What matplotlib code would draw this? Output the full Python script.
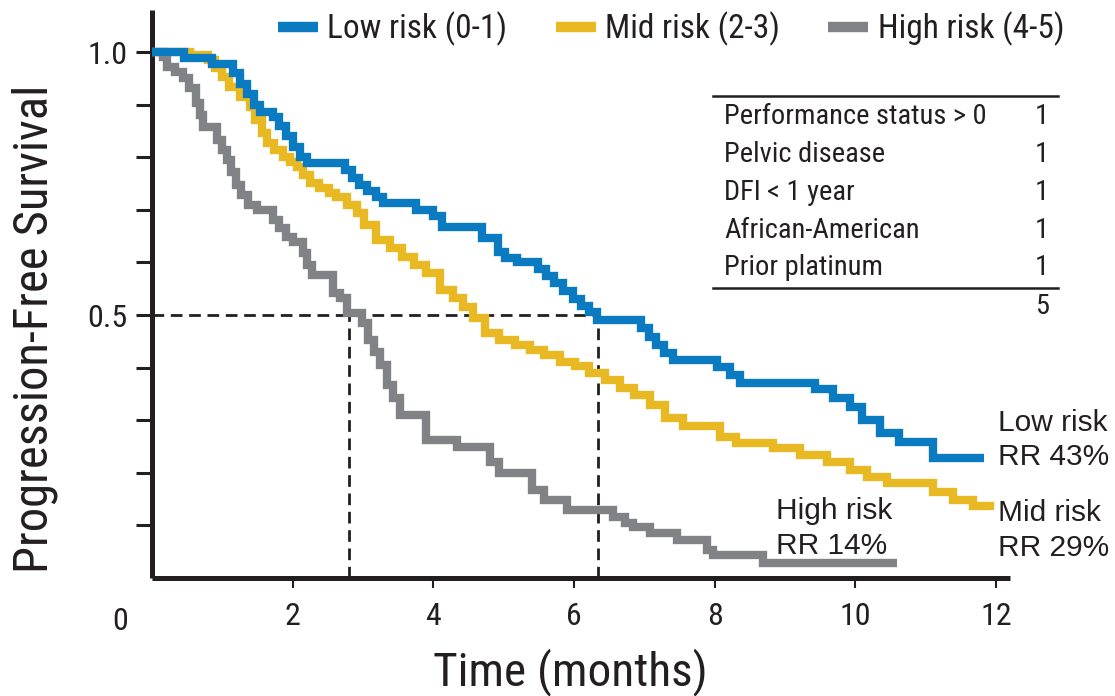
import numpy as np
import matplotlib
matplotlib.use("Agg")
import matplotlib.pyplot as plt
from matplotlib import font_manager
from matplotlib.lines import Line2D

# ---------------- data ----------------
low_t = [0, 0.46, 0.86, 1.15, 1.25, 1.35, 1.45, 1.53, 1.72, 1.80, 1.90, 2.00, 2.10, 2.20,
         2.74, 2.84, 2.95, 3.06, 3.19, 3.28, 3.76, 3.99, 4.13, 4.69, 4.92, 5.02, 5.19,
         5.49, 5.60, 5.72, 5.85, 5.98, 6.10, 6.22, 6.33, 6.96, 7.06, 7.16, 7.28, 7.41,
         8.03, 8.22, 8.36, 9.43, 9.68, 9.92, 10.10, 10.35, 10.62, 11.10, 11.83]
low_s = [1.0, 0.989, 0.977, 0.96, 0.94, 0.92, 0.90, 0.886, 0.876, 0.86, 0.84, 0.82, 0.80, 0.789,
         0.775, 0.76, 0.748, 0.736, 0.724, 0.713, 0.70, 0.688, 0.667, 0.646, 0.620, 0.608, 0.601,
         0.588, 0.575, 0.56, 0.545, 0.53, 0.517, 0.505, 0.49, 0.475, 0.458, 0.443, 0.428, 0.414,
         0.401, 0.386, 0.371, 0.36, 0.343, 0.325, 0.30, 0.276, 0.258, 0.228, 0.228]

mid_t = [0, 0.54, 0.79, 0.89, 0.99, 1.10, 1.25, 1.39, 1.47, 1.56, 1.63, 1.74, 1.86, 1.96,
         2.06, 2.14, 2.24, 2.38, 2.52, 2.62, 2.77, 2.91, 3.02, 3.19, 3.38, 3.56, 3.73, 3.90,
         4.09, 4.28, 4.42, 4.56, 4.74, 4.94, 5.16, 5.37, 5.58, 5.80, 6.01, 6.22, 6.44, 6.65,
         6.86, 7.08, 7.29, 7.55, 8.07, 8.31, 8.83, 9.21, 9.60, 9.92, 10.16, 10.45, 11.10,
         11.39, 11.68, 11.91]
mid_s = [1.0, 0.994, 0.985, 0.97, 0.952, 0.933, 0.914, 0.895, 0.871, 0.846, 0.827, 0.814, 0.80, 0.791,
         0.781, 0.766, 0.751, 0.741, 0.732, 0.724, 0.709, 0.694, 0.671, 0.643, 0.627, 0.61, 0.595, 0.58,
         0.548, 0.533, 0.515, 0.494, 0.466, 0.452, 0.443, 0.433, 0.424, 0.411, 0.403, 0.39, 0.376, 0.361,
         0.348, 0.329, 0.304, 0.289, 0.268, 0.257, 0.247, 0.234, 0.221, 0.205, 0.192, 0.181, 0.163,
         0.148, 0.137, 0.129]

high_t = [0, 0.15, 0.22, 0.32, 0.44, 0.53, 0.63, 0.68, 0.72, 0.92, 0.99, 1.06, 1.13, 1.20,
          1.27, 1.36, 1.49, 1.72, 1.81, 1.91, 2.01, 2.14, 2.21, 2.28, 2.57, 2.67, 2.77, 2.98,
          3.07, 3.15, 3.24, 3.34, 3.42, 3.52, 3.90, 4.33, 4.80, 4.94, 5.41, 5.58, 5.90, 6.55,
          6.72, 6.84, 7.08, 7.46, 7.89, 7.97, 8.69, 10.59]
high_s = [1.0, 0.99, 0.971, 0.962, 0.95, 0.932, 0.903, 0.88, 0.857, 0.833, 0.814, 0.795, 0.772, 0.747,
          0.728, 0.709, 0.70, 0.681, 0.665, 0.648, 0.639, 0.618, 0.595, 0.576, 0.542, 0.532, 0.504, 0.485,
          0.452, 0.43, 0.405, 0.367, 0.342, 0.31, 0.262, 0.249, 0.221, 0.20, 0.167, 0.148, 0.129, 0.116,
          0.105, 0.097, 0.086, 0.072, 0.053, 0.044, 0.029, 0.029]

series_names = ["Low risk (0-1)", "Mid risk (2-3)", "High risk (4-5)"]
series_colors = ["#0a7bc1", "#e8b922", "#808285"]

median_low = 6.34
median_high = 2.80

x_ticks = [2, 4, 6, 8, 10, 12]
y_ticks = [0.1, 0.2, 0.3, 0.4, 0.5, 0.6, 0.7, 0.8, 0.9, 1.0]
y_ticklabels = ["", "", "", "", "0.5", "", "", "", "", "1.0"]

table_rows = ["Performance status > 0", "Pelvic disease", "DFI < 1 year",
              "African-American", "Prior platinum"]
table_pts = ["1", "1", "1", "1", "1"]
table_total = "5"

end_labels = [("Low risk", "RR 43%"), ("Mid risk", "RR 29%"), ("High risk", "RR 14%")]

# ---------------- fonts ----------------
names = {f.name for f in font_manager.fontManager.ttflist}
narrow = next((n for n in ["Liberation Sans Narrow", "Roboto Condensed", "Open Sans Condensed",
                           "Noto Sans Condensed", "DejaVu Sans Condensed"] if n in names),
              "Liberation Sans")
regular = "Liberation Sans" if "Liberation Sans" in names else "DejaVu Sans"
plt.rcParams["font.family"] = [narrow, "DejaVu Sans"]

ink = "#231f20"
W, H = 1115, 696


def fx(px):
    return px / W


def fy(py):
    return 1 - py / H


fig = plt.figure(figsize=(W / 100, H / 100), dpi=100)
ax = fig.add_axes([fx(152), fy(578), (1010 - 152) / W, (578 - 10) / H])
ax.set_xlim(0, 12.2)
ax.set_ylim(0, 1.08)

for sp in ["top", "right"]:
    ax.spines[sp].set_visible(False)
for sp in ["left", "bottom"]:
    ax.spines[sp].set_linewidth(3.6)
    ax.spines[sp].set_color(ink)
    ax.spines[sp].set_capstyle("butt")

# dashed median lines
dash = dict(color=ink, lw=2.0, ls=(0, (4.2, 2.4)), zorder=3)
ax.plot([0, median_low], [0.5, 0.5], **dash)
ax.plot([median_high, median_high], [0, 0.5], **dash)
ax.plot([median_low, median_low], [0, 0.5], **dash)

for t, s, c in [(high_t, high_s, series_colors[2]), (mid_t, mid_s, series_colors[1]),
                (low_t, low_s, series_colors[0])]:
    ax.step(t, s, where="post", color=c, lw=6.0, solid_joinstyle="miter",
            solid_capstyle="butt", zorder=4)

ax.set_xticks(x_ticks)
ax.set_xticklabels([str(v) for v in x_ticks])
ax.set_yticks(y_ticks)
ax.set_yticklabels(y_ticklabels)
ax.tick_params(axis="x", length=7, width=1.5, color=ink, pad=10, labelsize=23, labelcolor=ink)
ax.tick_params(axis="y", length=11.5, width=2.2, color=ink, pad=6, labelsize=23, labelcolor=ink)

# origin "0"
fig.text(fx(120), fy(621), "0", ha="center", va="center", fontsize=23, color=ink)

fig.text(fx(570), fy(672), "Time (months)", ha="center", va="center", fontsize=34, color=ink)
fig.text(fx(35), fy(329), "Progression-Free Survival", rotation=90, ha="center", va="center",
         fontsize=35, color=ink)

# legend
handles = [Line2D([], [], color=c, lw=7.5, solid_capstyle="butt") for c in series_colors]
fig.legend(handles, series_names, loc="center", bbox_to_anchor=(fx(671), fy(29)), ncol=3,
           frameon=False, fontsize=24, handlelength=1.2, handletextpad=0.28,
           columnspacing=1.45, labelcolor=ink)

# table
fig.add_artist(Line2D([fx(713), fx(1058)], [fy(96), fy(96)], color=ink, lw=1.8))
fig.add_artist(Line2D([fx(713), fx(1058)], [fy(288), fy(288)], color=ink, lw=1.8))
row_y = [117, 155, 192, 230, 268]
for yy, lab, pts in zip(row_y, table_rows, table_pts):
    fig.text(fx(724), fy(yy), lab, ha="left", va="center", fontsize=20.5, color=ink)
    fig.text(fx(1049), fy(yy), pts, ha="right", va="center", fontsize=20.5, color=ink)
fig.text(fx(1049), fy(307), table_total, ha="right", va="center", fontsize=20.5, color=ink)

# end labels
lab_pos = [(998, 423, 457), (998, 513, 548), (776, 511, 546)]
for (l1, l2), (px, py1, py2) in zip(end_labels, lab_pos):
    fig.text(fx(px), fy(py1), l1, ha="left", va="center", fontsize=21.5, color=ink,
             family=[regular, "DejaVu Sans"])
    fig.text(fx(px), fy(py2), l2, ha="left", va="center", fontsize=21.5, color=ink,
             family=[regular, "DejaVu Sans"])

fig.savefig("out.png", dpi=100)
